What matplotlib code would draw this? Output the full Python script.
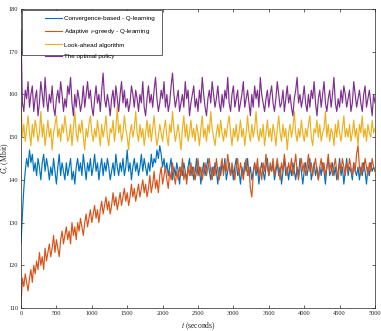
import matplotlib
matplotlib.use("Agg")
import matplotlib.pyplot as plt
from matplotlib.patches import Rectangle
from matplotlib.lines import Line2D

t_seconds = list(range(0, 5001, 20))

convergence_q = [
    125, 132, 138, 142, 145, 143, 147, 144, 146, 142,
    144, 141, 145, 143, 140, 144, 146, 142, 145, 143,
    140, 143, 141, 145, 142, 139, 143, 146, 141, 144,
    142, 140, 144, 141, 143, 145, 140, 142, 139, 143,
    145, 142, 144, 141, 146, 143, 140, 144, 142, 145,
    141, 143, 146, 142, 144, 140, 143, 145, 141, 144,
    142, 145, 143, 140, 142, 144, 141, 146, 143, 141,
    144, 142, 145, 141, 143, 147, 142, 144, 140, 143,
    145, 142, 144, 141, 143, 146, 142, 145, 143, 141,
    144, 142, 146, 143, 145, 144, 147, 145, 148, 146,
    143, 145, 142, 144, 141, 143, 145, 140, 143, 141,
    144, 142, 139, 143, 141, 144, 142, 140, 143, 145,
    141, 143, 140, 142, 145, 141, 143, 139, 142, 144,
    141, 143, 145, 142, 140, 143, 141, 144, 142, 139,
    143, 141, 144, 142, 145, 140, 142, 144, 141, 143,
    140, 143, 145, 141, 142, 139, 143, 141, 144, 142,
    145, 141, 143, 140, 142, 144, 141, 143, 139, 142,
    144, 142, 140, 143, 145, 141, 143, 142, 144, 140,
    142, 144, 141, 143, 139, 142, 145, 141, 143, 140,
    143, 141, 144, 142, 140, 143, 141, 145, 142, 139,
    142, 144, 141, 143, 145, 140, 142, 144, 141, 143,
    140, 143, 141, 144, 142, 139, 143, 145, 141, 142,
    144, 141, 143, 140, 142, 145, 141, 143, 139, 142,
    145, 141, 143, 142, 140, 144, 142, 141, 143, 140,
    143, 141, 144, 142, 139, 143, 141, 144, 142, 143,
    142,
]

adaptive_q = [
    111, 117, 115, 118, 116, 114, 117, 119, 116, 120,
    118, 121, 119, 123, 120, 122, 119, 124, 121, 123,
    125, 122, 124, 127, 123, 126, 124, 122, 126, 128,
    125, 127, 129, 126, 128, 125, 130, 127, 129, 126,
    130, 128, 131, 129, 127, 130, 132, 129, 131, 133,
    130, 132, 134, 131, 133, 130, 133, 135, 132, 134,
    136, 133, 135, 132, 134, 137, 134, 136, 133, 135,
    137, 134, 136, 138, 135, 137, 134, 136, 139, 136,
    138, 135, 137, 139, 136, 138, 140, 137, 139, 136,
    138, 141, 137, 139, 142, 138, 140, 137, 141, 143,
    139, 141, 143, 140, 138, 142, 140, 144, 141, 139,
    142, 140, 143, 141, 145, 140, 142, 139, 143, 141,
    144, 141, 143, 140, 142, 145, 141, 143, 140, 142,
    144, 141, 143, 145, 142, 140, 143, 141, 145, 142,
    140, 143, 145, 141, 144, 142, 146, 143, 141, 144,
    142, 140, 143, 145, 141, 144, 142, 140, 143, 145,
    141, 143, 138, 136, 141, 144, 142, 145, 141, 143,
    140, 144, 142, 146, 143, 141, 144, 142, 145, 141,
    143, 145, 142, 140, 144, 142, 146, 143, 141, 144,
    142, 145, 141, 143, 146, 142, 140, 143, 145, 142,
    144, 141, 143, 146, 142, 144, 141, 143, 145, 142,
    140, 143, 145, 142, 144, 141, 143, 146, 142, 144,
    141, 143, 145, 142, 140, 144, 142, 145, 143, 141,
    144, 142, 145, 143, 141, 144, 142, 146, 148, 143,
    141, 144, 142, 145, 143, 141, 144, 142, 145, 143,
    142,
]

look_ahead = [
    158, 150, 153, 149, 152, 155, 151, 148, 153, 150,
    154, 152, 149, 151, 156, 150, 153, 148, 151, 154,
    150, 152, 147, 151, 153, 155, 150, 152, 149, 153,
    151, 155, 152, 149, 150, 153, 148, 152, 156, 151,
    149, 153, 151, 154, 150, 147, 152, 150, 153, 155,
    151, 149, 152, 150, 154, 151, 148, 153, 150, 152,
    155, 150, 148, 152, 151, 154, 149, 152, 157, 151,
    153, 149, 151, 155, 152, 150, 147, 151, 153, 150,
    152, 156, 151, 149, 153, 150, 152, 148, 151, 154,
    150, 153, 149, 152, 155, 151, 148, 150, 153, 151,
    149, 152, 154, 150, 148, 153, 151, 156, 152, 149,
    151, 153, 150, 147, 152, 155, 150, 153, 149, 151,
    154, 150, 152, 149, 153, 151, 148, 152, 155, 150,
    152, 149, 153, 151, 156, 152, 150, 148, 151, 153,
    150, 154, 151, 149, 152, 150, 153, 155, 151, 148,
    152, 150, 153, 149, 151, 154, 150, 152, 148, 151,
    155, 151, 149, 153, 150, 152, 156, 151, 149, 152,
    150, 153, 148, 151, 154, 150, 152, 149, 153, 151,
    148, 152, 155, 151, 149, 153, 150, 152, 147, 151,
    153, 150, 152, 156, 151, 149, 152, 150, 154, 151,
    149, 152, 150, 153, 155, 150, 148, 152, 151, 154,
    150, 153, 149, 151, 152, 156, 150, 153, 149, 152,
    151, 148, 153, 150, 154, 151, 149, 152, 155, 150,
    152, 150, 153, 149, 151, 154, 150, 152, 148, 153,
    151, 155, 150, 152, 149, 153, 151, 150, 154, 151,
    152,
]

optimal_policy = [
    175, 158, 156, 161, 159, 163, 157, 160, 162, 156,
    159, 161, 155, 158, 163, 160, 157, 164, 159, 156,
    160, 158, 162, 157, 155, 159, 161, 158, 163, 160,
    156, 159, 157, 162, 160, 164, 158, 155, 160, 157,
    161, 159, 156, 158, 162, 157, 160, 163, 159, 161,
    157, 155, 159, 162, 158, 160, 156, 161, 165, 159,
    157, 160, 158, 155, 159, 161, 157, 162, 159, 156,
    160, 163, 158, 161, 157, 159, 156, 158, 162, 160,
    157, 161, 159, 156, 160, 158, 163, 157, 155, 159,
    162, 158, 160, 157, 161, 164, 159, 156, 158, 161,
    159, 163, 157, 160, 156, 158, 162, 165, 160, 157,
    159, 161, 156, 158, 160, 157, 163, 159, 161, 155,
    158, 160, 162, 157, 159, 156, 161, 158, 164, 160,
    157, 155, 159, 161, 158, 163, 160, 157, 159, 162,
    158, 156, 160, 157, 161, 159, 164, 158, 156, 160,
    162, 157, 159, 161, 156, 158, 160, 163, 157, 159,
    161, 158, 155, 160, 157, 162, 159, 161, 157, 164,
    160, 158, 156, 159, 161, 157, 160, 162, 158, 156,
    159, 163, 160, 157, 158, 161, 156, 159, 162, 158,
    160, 157, 155, 159, 161, 164, 158, 160, 157, 159,
    162, 158, 156, 160, 157, 161, 159, 163, 158, 155,
    159, 161, 157, 160, 163, 158, 156, 159, 161, 157,
    160, 164, 158, 156, 159, 157, 161, 158, 162, 160,
    157, 159, 161, 156, 158, 163, 160, 157, 159, 161,
    158, 156, 160, 162, 157, 159, 161, 158, 155, 160,
    158,
]

series_labels = [
    "Convergence-based - Q-learning",
    r"Adaptive $\epsilon$-greedy - Q-learning",
    "Look-ahead algorithm",
    "The optimal policy",
]
series_colors = ["#0072BD", "#D95319", "#EDB120", "#7E2F8E"]
x_ticks = list(range(0, 5001, 500))
y_ticks = list(range(110, 181, 10))

plt.rcParams["mathtext.fontset"] = "stix"

fig = plt.figure(figsize=(3.81, 3.31), dpi=100)
ax = fig.add_axes([21 / 381, 1 - 308 / 331, 354 / 381, 299 / 331])

data = [convergence_q, adaptive_q, look_ahead, optimal_policy]
for vals, col in zip(data, series_colors):
    ax.plot(t_seconds, vals, color=col, lw=0.85)

ax.set_xlim(0, 5000)
ax.set_ylim(110, 180)
ax.set_xticks(x_ticks)
ax.set_yticks(y_ticks)
for lab in ax.get_xticklabels() + ax.get_yticklabels():
    lab.set_family("Liberation Serif")
    lab.set_fontsize(4.6)
    lab.set_color("#262626")
ax.tick_params(direction="in", length=2.5, width=0.5, top=True, right=True,
               colors="#262626", pad=2)
for s in ax.spines.values():
    s.set_linewidth(0.5)
    s.set_color("#262626")

ax.set_xlabel(r"$t$ (seconds)", fontsize=5.5, family="Liberation Serif",
              labelpad=3, color="#262626")
fig.text(5.5 / 381, 1 - 158 / 331, r"$G_r$ (Mbit)", fontsize=5.5,
         family="Liberation Serif", color="#262626", rotation=90,
         ha="center", va="center")

# legend frame
ax.add_patch(Rectangle((1 / 354, 1 - 46 / 299), 140 / 354, 45 / 299,
                       transform=ax.transAxes, facecolor="white",
                       edgecolor="#262626", lw=0.5, zorder=5))
handles = [Line2D([], [], color=c, lw=0.8) for c in series_colors]
leg = ax.legend(handles, series_labels, loc="upper left",
                bbox_to_anchor=(24 / 354, 1 - 7 / 299), frameon=False,
                prop={"family": "Liberation Sans", "size": 4.5},
                handlelength=2.7, handletextpad=0.4, labelspacing=0.95,
                borderpad=0, borderaxespad=0)
leg.set_zorder(6)

fig.savefig("out.png", dpi=100)
